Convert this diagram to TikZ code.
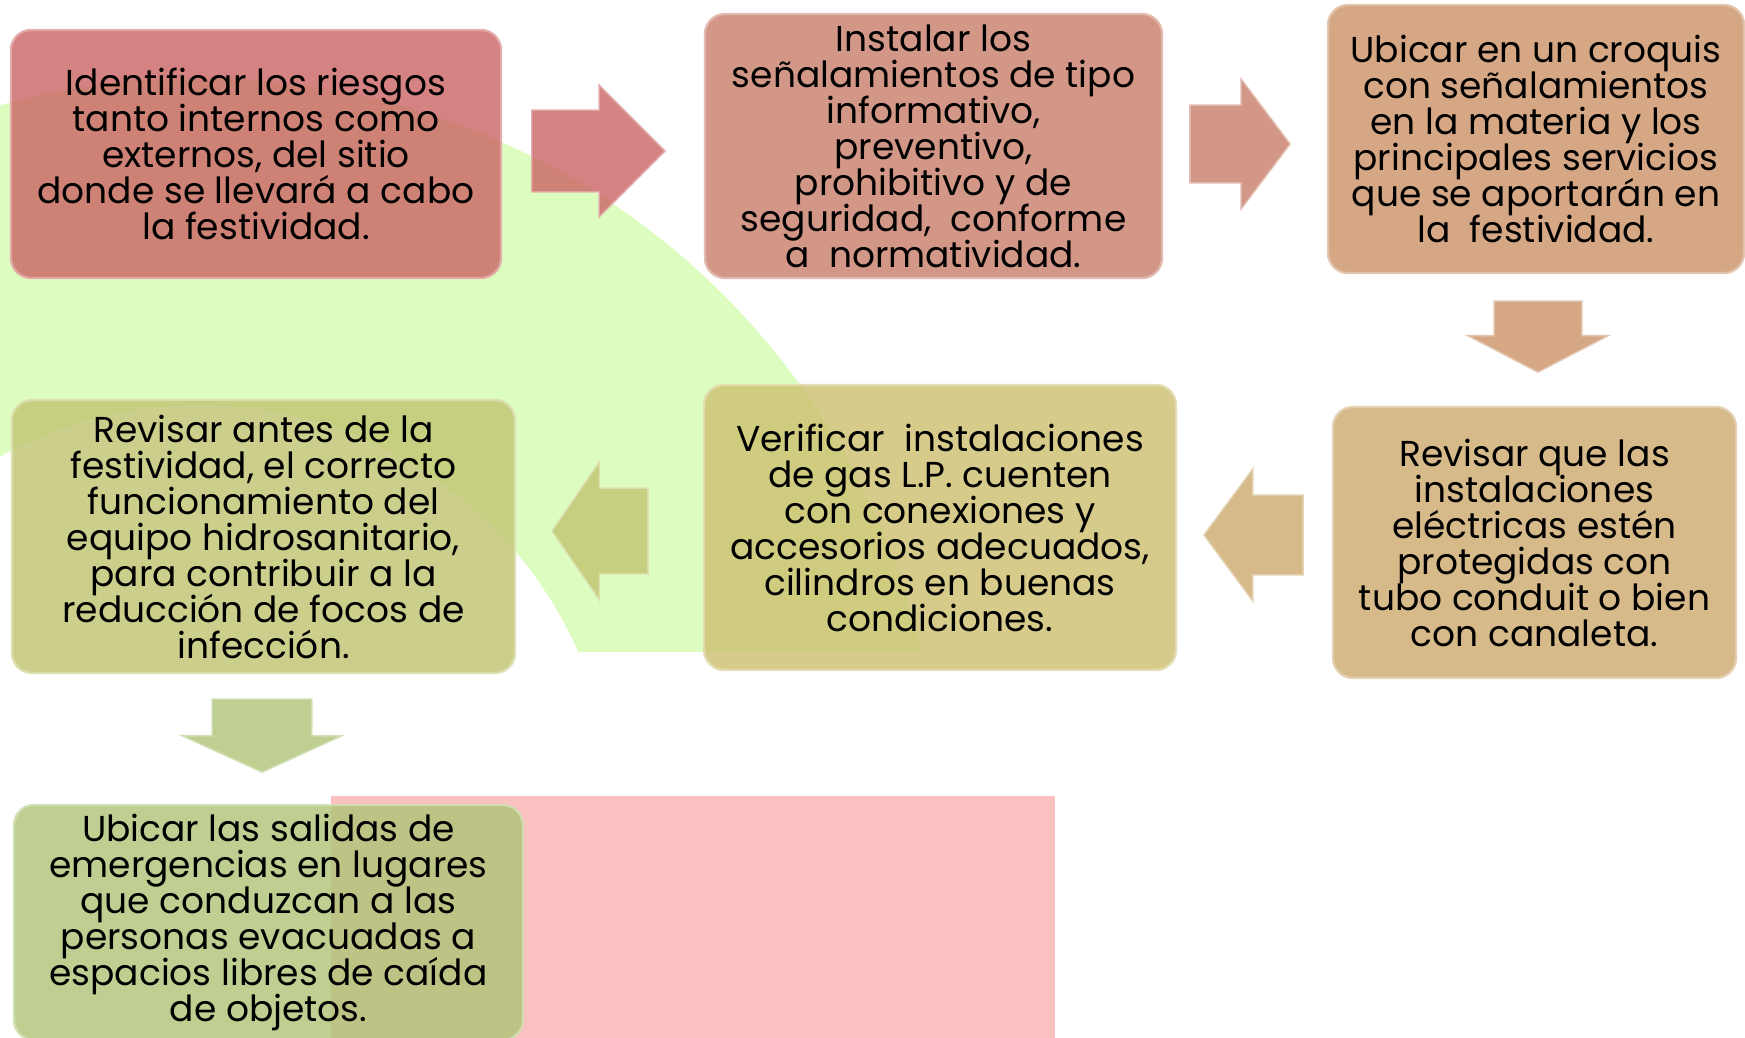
\documentclass[tikz,border=0pt]{standalone}
\usepackage{fontspec}
\setmainfont{Poppins}
\usetikzlibrary{shapes.arrows,calc}

\definecolor{bandgreen}{RGB}{221,252,192}
\definecolor{blockpink}{RGB}{251,192,192}
\definecolor{stepone}{RGB}{203,99,99}
\definecolor{steptwo}{RGB}{201,126,105}
\definecolor{stepthree}{RGB}{203,146,103}
\definecolor{stepfour}{RGB}{204,169,109}
\definecolor{stepfive}{RGB}{204,191,111}
\definecolor{stepsix}{RGB}{191,196,111}
\definecolor{stepseven}{RGB}{174,196,118}

\begin{document}
\begin{tikzpicture}[x=0.5pt, y=-0.5pt,           % pixel grid
                    font={\fontsize{18}{18}\selectfont\lineskiplimit=-100pt},
                    stepbox/.style={rounded corners=10pt, fill=#1, fill opacity=0.8,
                                    draw=#1!55!white, draw opacity=0.9, line width=1.2pt,
                                    text opacity=1, align=center, inner sep=0pt},
                    blockarrow/.style={single arrow, anchor=tip, fill=#1, fill opacity=0.8,
                                       draw=#1!55!white, draw opacity=0.9, line width=0.8pt}
                    ]

\clip (0,0) rectangle (1745,1038);
\fill[white] (0,0) rectangle (1745,1038);

% green band behind
\begin{scope}
 \clip (0,0) rectangle (1745,651);
 \fill[bandgreen, even odd rule] (200,818) circle[radius=370pt] (200,818) circle[radius=206.5pt];
\end{scope}

% pink block
\fill[blockpink] (331,796) rectangle (1055,1038);

% top row
\node[stepbox=stepone, minimum width=245pt, minimum height=124pt] (risks) at (256,154)
 {Identificar los riesgos\\tanto internos como\\externos, del sitio\\donde se llevará a cabo\\la festividad.};
\node[stepbox=steptwo, minimum width=228.5pt, minimum height=132pt] (signs) at (933.5,146)
 {Instalar los\\señalamientos de tipo\\informativo,\\preventivo,\\prohibitivo y de\\seguridad, \ conforme\\a \ normatividad.};
\node[stepbox=stepthree, minimum width=208pt, minimum height=134pt] (sketch) at (1536,139)
 {Ubicar en un croquis\\con señalamientos\\en la materia y los\\principales servicios\\que se aportarán en\\la \ festividad.};

% middle row
\node[stepbox=stepfour, minimum width=201.5pt, minimum height=135.5pt] (wiring) at (1534.5,542.5)
 {Revisar que las\\instalaciones\\eléctricas estén\\protegidas con\\tubo conduit o bien\\con canaleta.};
\node[stepbox=stepfive, minimum width=236pt, minimum height=142.5pt] (gas) at (940,527.5)
 {Verificar \ instalaciones\\de gas L.P. cuenten\\con conexiones y\\accesorios adecuados,\\cilindros en buenas\\condiciones.};
\node[stepbox=stepsix, minimum width=251.5pt, minimum height=136.5pt] (plumbing) at (263.5,536.5)
 {Revisar antes de la\\festividad, el correcto\\funcionamiento del\\equipo hidrosanitario,\\para contribuir a la\\reducción de focos de\\infección.};

% bottom
\node[stepbox=stepseven, minimum width=254.5pt, minimum height=117.5pt] (exits) at (268.5,922.5)
 {Ubicar las salidas de\\emergencias en lugares\\que conduzcan a las\\personas evacuadas a\\espacios libres de caída\\de objetos.};

% block arrows, placed by their tips (sep across = half the shaft)
\node[blockarrow=stepone, inner xsep=0pt, inner ysep=20pt, minimum height=66.5pt, minimum width=65pt,
      single arrow head extend=12.5pt, single arrow tip angle=90] (arrone) at (666,151) {};
\node[blockarrow=steptwo, inner xsep=0pt, inner ysep=19pt, minimum height=50pt, minimum width=64pt,
      single arrow head extend=13pt, single arrow tip angle=106] (arrtwo) at (1291,144) {};
\node[blockarrow=stepthree, inner xsep=21.5pt, inner ysep=0pt, shape border rotate=270, minimum height=35.5pt, minimum width=69pt,
      single arrow head extend=13pt, single arrow tip angle=125] (arrthree) at (1538,373) {};
\node[blockarrow=stepfour, inner xsep=0pt, inner ysep=19.5pt, shape border rotate=180, minimum height=49.5pt, minimum width=65pt,
      single arrow head extend=13pt, single arrow tip angle=107] (arrfour) at (1203,535) {};
\node[blockarrow=stepsix, inner xsep=0pt, inner ysep=21pt, shape border rotate=180, minimum height=48pt, minimum width=69pt,
      single arrow head extend=13pt, single arrow tip angle=111] (arrfive) at (551,531) {};
\node[blockarrow=stepseven, inner xsep=24.5pt, inner ysep=0pt, shape border rotate=270, minimum height=36.5pt, minimum width=79pt,
      single arrow head extend=15pt, single arrow tip angle=131] (arrsix) at (262,773) {};

\end{tikzpicture}
\end{document}
